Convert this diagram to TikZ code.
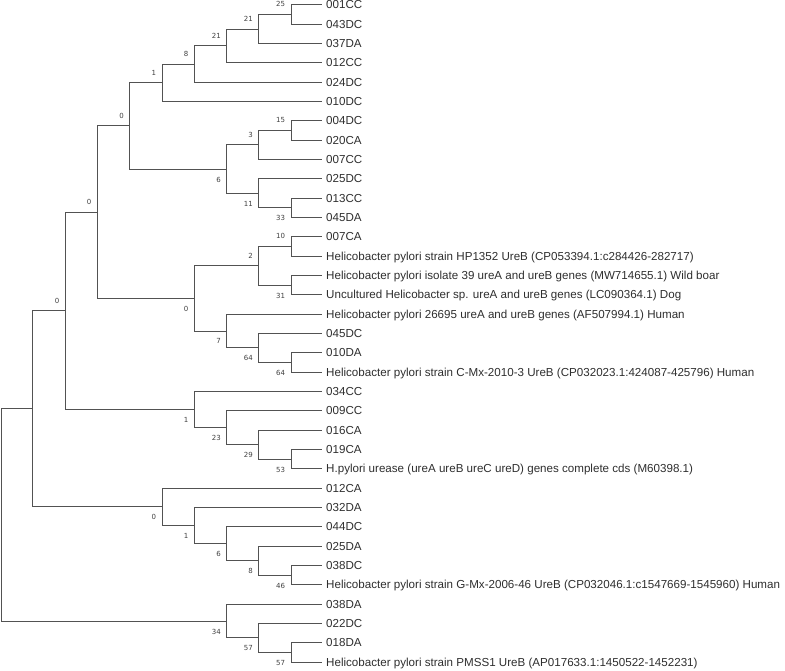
\documentclass[tikz,border=0pt]{standalone}
\usepackage{fontspec}
\setmainfont{Liberation Sans}
\newfontfamily\bootfont{DejaVu Sans}
\usetikzlibrary{positioning}
\pgfdeclarelayer{edgelayer}
\pgfdeclarelayer{nodelayer}
\pgfsetlayers{edgelayer,nodelayer,main}
\tikzstyle{none}=[inner sep=0pt]
\tikzstyle{edge}=[draw=black!68, line width=0.8pt]
\tikzstyle{leaf}=[anchor=west, inner xsep=4pt, inner ysep=0pt, text height=8.3pt, text depth=0pt, text=black!82, font=\fontsize{11.6}{13}\selectfont]
\tikzstyle{boot}=[inner sep=0pt, text=black!75, font=\bootfont\fontsize{7}{8}\selectfont]

\begin{document}
\begin{tikzpicture}[x=1pt, y=-1pt]
	\useasboundingbox (0,0) rectangle (785,670);
	\begin{pgfonlayer}{nodelayer}
		% leaves
		\node [style=leaf] (0) at (322, 4.7) {001CC};
		\node [style=leaf] (1) at (322, 24.0) {043DC};
		\node [style=leaf] (2) at (322, 43.4) {037DA};
		\node [style=leaf] (3) at (322, 62.7) {012CC};
		\node [style=leaf] (4) at (322, 82.0) {024DC};
		\node [style=leaf] (5) at (322, 101.4) {010DC};
		\node [style=leaf] (6) at (322, 120.7) {004DC};
		\node [style=leaf] (7) at (322, 140.0) {020CA};
		\node [style=leaf] (8) at (322, 159.3) {007CC};
		\node [style=leaf] (9) at (322, 178.7) {025DC};
		\node [style=leaf] (10) at (322, 198.0) {013CC};
		\node [style=leaf] (11) at (322, 217.3) {045DA};
		\node [style=leaf] (12) at (322, 236.7) {007CA};
		\node [style=leaf] (13) at (322, 256.0) {Helicobacter pylori strain HP1352 UreB (CP053394.1:c284426-282717)};
		\node [style=leaf] (14) at (322, 275.3) {Helicobacter pylori isolate 39 ureA and ureB genes (MW714655.1) Wild boar};
		\node [style=leaf] (15) at (322, 294.7) {Uncultured Helicobacter sp. ureA and ureB genes (LC090364.1) Dog};
		\node [style=leaf] (16) at (322, 314.0) {Helicobacter pylori 26695 ureA and ureB genes (AF507994.1) Human};
		\node [style=leaf] (17) at (322, 333.3) {045DC};
		\node [style=leaf] (18) at (322, 352.7) {010DA};
		\node [style=leaf] (19) at (322, 372.0) {Helicobacter pylori strain C-Mx-2010-3 UreB (CP032023.1:424087-425796) Human};
		\node [style=leaf] (20) at (322, 391.3) {034CC};
		\node [style=leaf] (21) at (322, 410.6) {009CC};
		\node [style=leaf] (22) at (322, 430.0) {016CA};
		\node [style=leaf] (23) at (322, 449.3) {019CA};
		\node [style=leaf] (24) at (322, 468.6) {H.pylori urease (ureA ureB ureC ureD) genes complete cds (M60398.1)};
		\node [style=leaf] (25) at (322, 488.0) {012CA};
		\node [style=leaf] (26) at (322, 507.3) {032DA};
		\node [style=leaf] (27) at (322, 526.6) {044DC};
		\node [style=leaf] (28) at (322, 546.0) {025DA};
		\node [style=leaf] (29) at (322, 565.3) {038DC};
		\node [style=leaf] (30) at (322, 584.6) {Helicobacter pylori strain G-Mx-2006-46 UreB (CP032046.1:c1547669-1545960) Human};
		\node [style=leaf] (31) at (322, 604.0) {038DA};
		\node [style=leaf] (32) at (322, 623.3) {022DC};
		\node [style=leaf] (33) at (322, 642.6) {018DA};
		\node [style=leaf] (34) at (322, 662.0) {Helicobacter pylori strain PMSS1 UreB (AP017633.1:1450522-1452231)};
		% inner nodes
		\node [style=none] (35) at (291, 14.35) {};
		\node [style=none] (36) at (258.7, 28.9) {};
		\node [style=none] (37) at (226.7, 45.8) {};
		\node [style=none] (38) at (194.3, 63.9) {};
		\node [style=none] (39) at (162, 82.6) {};
		\node [style=none] (40) at (291, 130.35) {};
		\node [style=none] (41) at (258.7, 144.8) {};
		\node [style=none] (42) at (291, 207.65) {};
		\node [style=none] (43) at (258.7, 193.2) {};
		\node [style=none] (44) at (226.7, 169.0) {};
		\node [style=none] (45) at (129.7, 125.8) {};
		\node [style=none] (46) at (291, 246.35) {};
		\node [style=none] (47) at (291, 285.0) {};
		\node [style=none] (48) at (258.7, 265.7) {};
		\node [style=none] (49) at (291, 362.35) {};
		\node [style=none] (50) at (258.7, 347.8) {};
		\node [style=none] (51) at (226.7, 330.9) {};
		\node [style=none] (52) at (194.3, 298.3) {};
		\node [style=none] (53) at (97.3, 212.05) {};
		\node [style=none] (54) at (291, 459.0) {};
		\node [style=none] (55) at (258.7, 444.5) {};
		\node [style=none] (56) at (226.7, 427.6) {};
		\node [style=none] (57) at (194.3, 409.5) {};
		\node [style=none] (58) at (65.3, 310.8) {};
		\node [style=none] (59) at (291, 575.0) {};
		\node [style=none] (60) at (258.7, 560.5) {};
		\node [style=none] (61) at (226.7, 543.6) {};
		\node [style=none] (62) at (194.3, 525.5) {};
		\node [style=none] (63) at (162, 506.8) {};
		\node [style=none] (64) at (32.7, 408.8) {};
		\node [style=none] (65) at (291, 652.3) {};
		\node [style=none] (66) at (258.7, 637.8) {};
		\node [style=none] (67) at (226.7, 620.9) {};
		\node [style=none] (68) at (1.7, 514.9) {};
		% bootstrap values
		\node [style=boot, above left=6.5pt and 5pt of 35] (b35) {25};
		\node [style=boot, above left=6.5pt and 5pt of 36] (b36) {21};
		\node [style=boot, above left=6.5pt and 5pt of 37] (b37) {21};
		\node [style=boot, above left=6.5pt and 5pt of 38] (b38) {8};
		\node [style=boot, above left=6.5pt and 5pt of 39] (b39) {1};
		\node [style=boot, above left=6.5pt and 5pt of 40] (b40) {15};
		\node [style=boot, above left=6.5pt and 5pt of 41] (b41) {3};
		\node [style=boot, below left=7pt and 5pt of 42] (b42) {33};
		\node [style=boot, below left=7pt and 5pt of 43] (b43) {11};
		\node [style=boot, below left=7pt and 5pt of 44] (b44) {6};
		\node [style=boot, above left=6.5pt and 5pt of 45] (b45) {0};
		\node [style=boot, above left=6.5pt and 5pt of 46] (b46) {10};
		\node [style=boot, below left=7pt and 5pt of 47] (b47) {31};
		\node [style=boot, above left=6.5pt and 5pt of 48] (b48) {2};
		\node [style=boot, below left=7pt and 5pt of 49] (b49) {64};
		\node [style=boot, below left=7pt and 5pt of 50] (b50) {64};
		\node [style=boot, below left=7pt and 5pt of 51] (b51) {7};
		\node [style=boot, below left=7pt and 5pt of 52] (b52) {0};
		\node [style=boot, above left=6.5pt and 5pt of 53] (b53) {0};
		\node [style=boot, below left=7pt and 5pt of 54] (b54) {53};
		\node [style=boot, below left=7pt and 5pt of 55] (b55) {29};
		\node [style=boot, below left=7pt and 5pt of 56] (b56) {23};
		\node [style=boot, below left=7pt and 5pt of 57] (b57) {1};
		\node [style=boot, above left=6.5pt and 5pt of 58] (b58) {0};
		\node [style=boot, below left=7pt and 5pt of 59] (b59) {46};
		\node [style=boot, below left=7pt and 5pt of 60] (b60) {8};
		\node [style=boot, below left=7pt and 5pt of 61] (b61) {6};
		\node [style=boot, below left=7pt and 5pt of 62] (b62) {1};
		\node [style=boot, below left=7pt and 5pt of 63] (b63) {0};
		\node [style=boot, below left=7pt and 5pt of 65] (b65) {57};
		\node [style=boot, below left=7pt and 5pt of 66] (b66) {57};
		\node [style=boot, below left=7pt and 5pt of 67] (b67) {34};
	\end{pgfonlayer}
	\begin{pgfonlayer}{edgelayer}
		\draw [style=edge] (35.center) |- (0.west);
		\draw [style=edge] (35.center) |- (1.west);
		\draw [style=edge] (36.center) |- (35.center);
		\draw [style=edge] (36.center) |- (2.west);
		\draw [style=edge] (37.center) |- (36.center);
		\draw [style=edge] (37.center) |- (3.west);
		\draw [style=edge] (38.center) |- (37.center);
		\draw [style=edge] (38.center) |- (4.west);
		\draw [style=edge] (39.center) |- (38.center);
		\draw [style=edge] (39.center) |- (5.west);
		\draw [style=edge] (40.center) |- (6.west);
		\draw [style=edge] (40.center) |- (7.west);
		\draw [style=edge] (41.center) |- (40.center);
		\draw [style=edge] (41.center) |- (8.west);
		\draw [style=edge] (42.center) |- (10.west);
		\draw [style=edge] (42.center) |- (11.west);
		\draw [style=edge] (43.center) |- (9.west);
		\draw [style=edge] (43.center) |- (42.center);
		\draw [style=edge] (44.center) |- (41.center);
		\draw [style=edge] (44.center) |- (43.center);
		\draw [style=edge] (45.center) |- (39.center);
		\draw [style=edge] (45.center) |- (44.center);
		\draw [style=edge] (46.center) |- (12.west);
		\draw [style=edge] (46.center) |- (13.west);
		\draw [style=edge] (47.center) |- (14.west);
		\draw [style=edge] (47.center) |- (15.west);
		\draw [style=edge] (48.center) |- (46.center);
		\draw [style=edge] (48.center) |- (47.center);
		\draw [style=edge] (49.center) |- (18.west);
		\draw [style=edge] (49.center) |- (19.west);
		\draw [style=edge] (50.center) |- (17.west);
		\draw [style=edge] (50.center) |- (49.center);
		\draw [style=edge] (51.center) |- (16.west);
		\draw [style=edge] (51.center) |- (50.center);
		\draw [style=edge] (52.center) |- (48.center);
		\draw [style=edge] (52.center) |- (51.center);
		\draw [style=edge] (53.center) |- (45.center);
		\draw [style=edge] (53.center) |- (52.center);
		\draw [style=edge] (54.center) |- (23.west);
		\draw [style=edge] (54.center) |- (24.west);
		\draw [style=edge] (55.center) |- (22.west);
		\draw [style=edge] (55.center) |- (54.center);
		\draw [style=edge] (56.center) |- (21.west);
		\draw [style=edge] (56.center) |- (55.center);
		\draw [style=edge] (57.center) |- (20.west);
		\draw [style=edge] (57.center) |- (56.center);
		\draw [style=edge] (58.center) |- (53.center);
		\draw [style=edge] (58.center) |- (57.center);
		\draw [style=edge] (59.center) |- (29.west);
		\draw [style=edge] (59.center) |- (30.west);
		\draw [style=edge] (60.center) |- (28.west);
		\draw [style=edge] (60.center) |- (59.center);
		\draw [style=edge] (61.center) |- (27.west);
		\draw [style=edge] (61.center) |- (60.center);
		\draw [style=edge] (62.center) |- (26.west);
		\draw [style=edge] (62.center) |- (61.center);
		\draw [style=edge] (63.center) |- (25.west);
		\draw [style=edge] (63.center) |- (62.center);
		\draw [style=edge] (64.center) |- (58.center);
		\draw [style=edge] (64.center) |- (63.center);
		\draw [style=edge] (65.center) |- (33.west);
		\draw [style=edge] (65.center) |- (34.west);
		\draw [style=edge] (66.center) |- (32.west);
		\draw [style=edge] (66.center) |- (65.center);
		\draw [style=edge] (67.center) |- (31.west);
		\draw [style=edge] (67.center) |- (66.center);
		\draw [style=edge] (68.center) |- (64.center);
		\draw [style=edge] (68.center) |- (67.center);
	\end{pgfonlayer}
\end{tikzpicture}
\end{document}
